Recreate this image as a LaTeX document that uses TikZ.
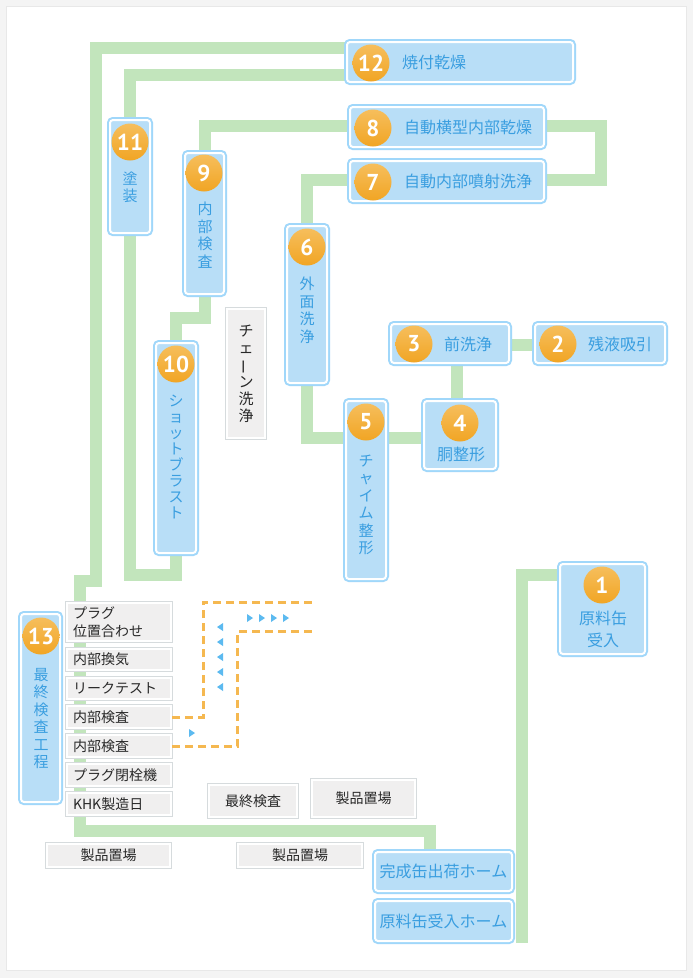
\documentclass[tikz,border=0pt]{standalone}
\usepackage{fontspec}
\newfontfamily\jpfont{Noto Sans CJK JP}
\newfontfamily\numfont{PT Sans}
\usetikzlibrary{backgrounds}
\definecolor{KojoPanel}{RGB}{244,244,244}
\definecolor{KojoShadow}{RGB}{232,232,232}
\definecolor{KojoBand}{RGB}{194,229,188}
\definecolor{KojoBoxFill}{RGB}{184,222,247}
\definecolor{KojoBoxLine}{RGB}{160,215,250}
\definecolor{KojoBlueText}{RGB}{58,158,224}
\definecolor{KojoGrayFill}{RGB}{240,239,239}
\definecolor{KojoGrayLine}{RGB}{214,219,221}
\definecolor{KojoDark}{RGB}{40,40,40}
\definecolor{KojoOrange}{RGB}{241,165,36}
\definecolor{KojoOrangeLight}{RGB}{246,190,92}
\definecolor{KojoDash}{RGB}{245,184,80}
\definecolor{KojoArrow}{RGB}{92,186,240}
\tikzset{
  kojo/box/.style={
    preaction={draw=KojoBoxLine, line width=6pt},
    draw=white,
    line width=2pt,
    fill=KojoBoxFill,
    rounded corners=3pt,
    inner sep=0pt
  },
  kojo/greybox/.style={
    preaction={draw=KojoGrayLine, line width=4pt},
    draw=white,
    line width=2pt,
    fill=KojoGrayFill,
    inner sep=0pt,
    align=center,
    text=KojoDark,
    font=\jpfont\fontsize{14}{18}\selectfont
  },
  kojo/listbox/.style={
    kojo/greybox,
    minimum width=104pt,
    text width=92pt,
    inner xsep=6pt,
    align=left
  },
  kojo/badge/.style={
    circle,
    minimum size=37pt,
    inner sep=0pt,
    top color=KojoOrangeLight,
    bottom color=KojoOrange,
    text=white,
    font=\numfont\bfseries\fontsize{23}{23}\selectfont
  },
  kojo/label/.style={text=KojoBlueText, inner sep=0pt, align=center, font=\jpfont\fontsize{16}{22}\selectfont},
  kojo/vlabel/.style={kojo/label, font=\jpfont\fontsize{15}{17.5}\selectfont},
  kojo/band/.style={draw=KojoBand, line width=12pt},
  kojo/dashline/.style={draw=KojoDash, line width=3pt, dash pattern=on 8pt off 5pt},
  kojo/tri/.style={fill=KojoArrow}
}

\begin{document}
\begin{tikzpicture}[x=1pt,y=-1pt]
  \useasboundingbox (0,0) rectangle (693,978);

  % process boxes
  \node[kojo/box, minimum width=226pt, minimum height=40pt] (b12) at (460,62) {};
  \node[kojo/box, minimum width=194pt, minimum height=40pt] (b8) at (447,127) {};
  \node[kojo/box, minimum width=194pt, minimum height=40pt] (b7) at (447,181) {};
  \node[kojo/box, minimum width=40pt, minimum height=113pt] (b11) at (130,176.5) {};
  \node[kojo/box, minimum width=39pt, minimum height=141pt] (b9) at (204.5,223.5) {};
  \node[kojo/box, minimum width=40pt, minimum height=210pt] (b10) at (176,448) {};
  \node[kojo/box, minimum width=40pt, minimum height=157pt] (b6) at (307,304.5) {};
  \node[kojo/box, minimum width=40pt, minimum height=178pt] (b5) at (366,490) {};
  \node[kojo/box, minimum width=72pt, minimum height=68pt] (b4) at (460,435) {};
  \node[kojo/box, minimum width=118pt, minimum height=39pt] (b3) at (450,343.5) {};
  \node[kojo/box, minimum width=130pt, minimum height=39pt] (b2) at (600,343.5) {};
  \node[kojo/box, minimum width=85pt, minimum height=90pt] (b1) at (602.5,609) {};
  \node[kojo/box, minimum width=39pt, minimum height=188pt] (b13) at (40.5,708) {};
  \node[kojo/box, kojo/label, minimum width=137pt, minimum height=39pt] (ship) at (443.5,871.5) {完成缶出荷ホーム};
  \node[kojo/box, kojo/label, minimum width=137pt, minimum height=40pt] (recv) at (443.5,921) {原料缶受入ホーム};

  % numbered badges
  \node[kojo/badge] (n12) at (371,63) {12};
  \node[kojo/badge] (n8) at (373,128) {8};
  \node[kojo/badge] (n7) at (373,182) {7};
  \node[kojo/badge] (n11) at (130,142) {11};
  \node[kojo/badge] (n9) at (204,173) {9};
  \node[kojo/badge] (n10) at (176,364) {10};
  \node[kojo/badge] (n6) at (307,247) {6};
  \node[kojo/badge] (n5) at (366,422) {5};
  \node[kojo/badge] (n4) at (460,423) {4};
  \node[kojo/badge] (n3) at (414,344) {3};
  \node[kojo/badge] (n2) at (558,344) {2};
  \node[kojo/badge] (n1) at (602,585) {1};
  \node[kojo/badge] (n13) at (41,636) {13};

  % box labels
  \node[kojo/label, anchor=west] (t12) at (402,62) {焼付乾燥};
  \node[kojo/label] (t8) at (468,127) {自動横型内部乾燥};
  \node[kojo/label] (t7) at (468,181) {自動内部噴射洗浄};
  \node[kojo/label] (t3) at (468,344) {前洗浄};
  \node[kojo/label] (t2) at (620,344) {残液吸引};
  \node[kojo/label] (t4) at (461,454) {胴整形};
  \node[kojo/label] (t1) at (603,629) {原料缶\\受入};
  \node[kojo/vlabel] (t11) at (130,187.5) {塗\\装};
  \node[kojo/vlabel] (t9) at (205,235) {内\\部\\検\\査};
  \node[kojo/vlabel] (t6) at (307,310) {外\\面\\洗\\浄};
  \node[kojo/vlabel, font=\jpfont\fontsize{15}{16}\selectfont] (t10) at (176,457) {シ\\ョ\\ッ\\ト\\ブ\\ラ\\ス\\ト};
  \node[kojo/vlabel] (t5) at (366,505) {チ\\ャ\\イ\\ム\\整\\形};
  \node[kojo/vlabel] (t13) at (41,718.5) {最\\終\\検\\査\\工\\程};

  % grey boxes
  \node[kojo/greybox, minimum width=38pt, minimum height=129pt, font=\jpfont\fontsize{15}{17}\selectfont] (chain) at (246,373.5) {チ\\ェ\\\rotatebox[origin=c]{90}{ー}\\ン\\洗\\浄};
  \node[kojo/listbox, minimum height=38pt] (plug) at (119,622) {プラグ\\位置合わせ};
  \node[kojo/listbox, minimum height=21pt] (vent) at (119,659.5) {内部換気};
  \node[kojo/listbox, minimum height=21pt] (leak) at (119,688.5) {リークテスト};
  \node[kojo/listbox, minimum height=22pt] (insp1) at (119,717) {内部検査};
  \node[kojo/listbox, minimum height=22pt] (insp2) at (119,746) {内部検査};
  \node[kojo/listbox, minimum height=22pt] (close) at (119,775) {プラグ閉栓機};
  \node[kojo/listbox, minimum height=22pt] (khk) at (119,804) {KHK製造日};
  \node[kojo/greybox, minimum width=88pt, minimum height=32pt] (final) at (253,801) {最終検査};
  \node[kojo/greybox, minimum width=103pt, minimum height=37pt] (store1) at (363.5,798.5) {製品置場};
  \node[kojo/greybox, minimum width=124pt, minimum height=23pt] (store2) at (300,855.5) {製品置場};
  \node[kojo/greybox, minimum width=123pt, minimum height=23pt] (store3) at (108.5,855.5) {製品置場};

  % free ends
  \coordinate (yard) at (522,943);
  \coordinate (dashA) at (315,602);
  \coordinate (dashB) at (315,631);

  % inspection loop
  \draw[kojo/dashline] (insp1.east) -| (203,602) -- (dashA);
  \draw[kojo/dashline] (insp2.east) -| (237.5,631) -- (dashB);
  \foreach \ty in {627,642,657,672,687}
    \fill[kojo/tri] (223,\ty-4) -- (223,\ty+4) -- (217,\ty) -- cycle;
  \foreach \tx in {250,262,274,286}
    \fill[kojo/tri] (\tx-3,614) -- (\tx-3,622) -- (\tx+3,618) -- cycle;
  \fill[kojo/tri] (189,729) -- (189,737) -- (195,733) -- cycle;

  \begin{scope}[on background layer]
    \fill[KojoPanel] (0,0) rectangle (693,978);
    \filldraw[fill=white, draw=KojoShadow] (6,6) rectangle (686,970);
    % conveyor lines
    \draw[kojo/band] (b12.west |- 0,47.5) -| (96,581) -| (80,831) -| (ship.north -| 430,0);
    \draw[kojo/band] (b12.west |- 0,75) -| (b11.north);
    \draw[kojo/band] (b11.south) |- (b10.south |- 0,575) -- (b10.south);
    \draw[kojo/band] (b10.north) |- (b9.south |- 0,318) -- (b9.south);
    \draw[kojo/band] (b9.north) |- (b8.west |- 0,126);
    \draw[kojo/band] (b8.east |- 0,126) -| (601,154) |- (b7.east |- 0,180);
    \draw[kojo/band] (b7.west |- 0,180) -| (b6.north);
    \draw[kojo/band] (b6.south) |- (b5.west |- 0,437.5);
    \draw[kojo/band] (b5.east |- 0,437.5) -- (b4.west |- 0,437.5);
    \draw[kojo/band] (b4.north -| 457,0) -- (b3.south -| 457,0);
    \draw[kojo/band] (b3.east |- 0,345) -- (b2.west |- 0,345);
    \draw[kojo/band] (b1.west |- 0,575) -| (yard);
  \end{scope}
\end{tikzpicture}
\end{document}
